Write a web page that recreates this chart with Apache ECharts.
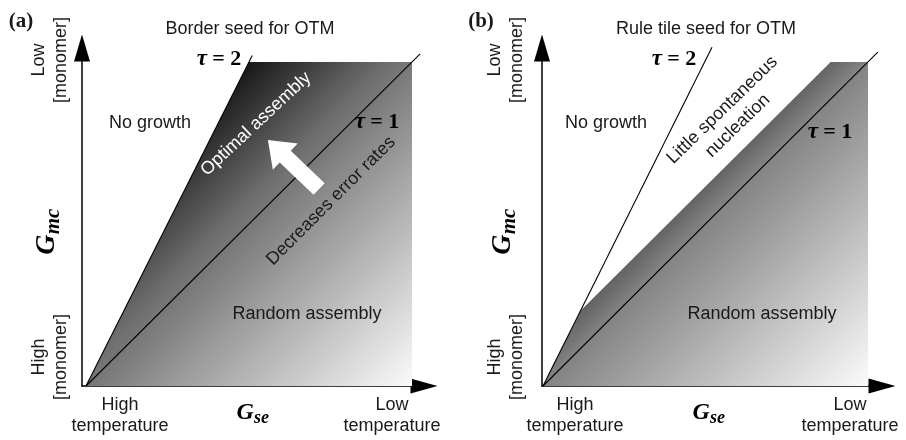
<!DOCTYPE html>
<html lang="en">
<head>
<meta charset="UTF-8">
<title>OTM growth regimes</title>
<script src="https://cdn.jsdelivr.net/npm/echarts@6/dist/echarts.min.js"></script>
<style>
    html, body { margin: 0; padding: 0; background: #fff; }
    #main { width: 906px; height: 440px; }
</style>
</head>
<body>
<div id="main"></div>
<script>
// panel (a): border seed
var tau2A = [[0, 0], [0.51, 1.02]];
var tau1A = [[0, 0], [1.025, 1.025]];
var regionA = [[0, 0], [0.5, 1], [1, 1]];
var arrowA = [[0.715, 0.608, 0.558, 0.759]];   // tail x, tail y, tip x, tip y

// panel (b): rule tile seed
var tau2B = [[0, 0], [0.52, 1.045]];
var tau1B = [[0, 0], [1.03, 1.03]];
var regionB = [[0, 0], [0.117, 0.234], [0.885, 1], [1, 1]];

var titles = ['Border seed for OTM', 'Rule tile seed for OTM'];
var tags = ['(a)', '(b)'];

var sans = '18px "Liberation Sans", Arial, sans-serif';
var serifB = 'bold 21px "Liberation Serif", "Times New Roman", serif';
var ink = '#1a1a1a';

var chart = echarts.init(document.getElementById('main'));

function xAx(gi, min, max) {
    return {
        type: 'value', gridIndex: gi, min: min, max: max,
        axisLine: { show: true, onZero: true, symbol: ['none', 'triangle'], symbolSize: [15, 27],
            lineStyle: { color: '#000', width: 1.5 } },
        axisTick: { show: false }, axisLabel: { show: false }, splitLine: { show: false }
    };
}
function yAx(gi, max) {
    return {
        type: 'value', gridIndex: gi, min: 0, max: max,
        axisLine: { show: true, onZero: false, symbol: ['none', 'triangle'], symbolSize: [16, 27],
            lineStyle: { color: '#000', width: 1.5 } },
        axisTick: { show: false }, axisLabel: { show: false }, splitLine: { show: false }
    };
}

function area(gi, data, grad) {
    return { type: 'line', xAxisIndex: gi, yAxisIndex: gi, data: data, symbol: 'none',
        lineStyle: { width: 0 }, areaStyle: { color: grad, opacity: 1 }, silent: true, z: 1 };
}
function tauLine(gi, data) {
    return { type: 'line', xAxisIndex: gi, yAxisIndex: gi, data: data, symbol: 'none',
        lineStyle: { color: '#000', width: 1.1 }, clip: false, silent: true, z: 3 };
}

function renderArrow(params, api) {
    var a = api.coord([api.value(0), api.value(1)]);
    var b = api.coord([api.value(2), api.value(3)]);
    var dx = b[0] - a[0], dy = b[1] - a[1];
    var len = Math.sqrt(dx * dx + dy * dy);
    var ux = dx / len, uy = dy / len, nx = -uy, ny = ux;
    var shaft = 8, head = 18, headLen = 24;
    var hb = [b[0] - ux * headLen, b[1] - uy * headLen];
    return {
        type: 'polygon',
        shape: { points: [
            [a[0] + nx * shaft, a[1] + ny * shaft],
            [hb[0] + nx * shaft, hb[1] + ny * shaft],
            [hb[0] + nx * head, hb[1] + ny * head],
            b,
            [hb[0] - nx * head, hb[1] - ny * head],
            [hb[0] - nx * shaft, hb[1] - ny * shaft],
            [a[0] - nx * shaft, a[1] - ny * shaft]
        ] },
        style: { fill: '#fff' }
    };
}

var gradA = { type: 'linear', x: 0, y: 0, x2: 1, y2: 1, colorStops: [
    { offset: 0, color: '#000' }, { offset: 0.25, color: '#161616' },
    { offset: 0.46, color: '#6c6c6c' }, { offset: 0.6, color: '#939393' },
    { offset: 1, color: '#fbfbfb' }] };
var gradB = { type: 'linear', x: 0, y: 0, x2: 1, y2: 1, colorStops: [
    { offset: 0, color: '#000' }, { offset: 0.44, color: '#626262' },
    { offset: 0.5, color: '#848484' }, { offset: 1, color: '#fbfbfb' }] };

function txt(x, y, text, o) {
    o = o || {};
    return { type: 'text', x: x, y: y, rotation: o.rot || 0, silent: true, z: 10,
        style: { text: text, font: o.font || sans, fill: o.fill || ink,
            align: 'center', verticalAlign: 'middle', lineHeight: o.lh || 21 } };
}
function tau(x, y, n) {
    return { type: 'text', x: x, y: y, silent: true, z: 10,
        style: { text: '{t|τ}{e| = ' + n + '}', align: 'center', verticalAlign: 'middle',
            rich: {
                t: { font: 'bold italic 23px "Liberation Serif", serif', fill: '#000' },
                e: { font: 'bold 22px "Liberation Serif", serif', fill: '#000' }
            } } };
}
// G with subscript, optionally rotated
function gsym(x, y, sub, rot, big, small) {
    return { type: 'group', x: x, y: y, rotation: rot, silent: true, z: 10, children: [
        { type: 'text', x: -big * 0.85, y: 0, style: { text: 'G', font: 'bold italic ' + big + 'px "Liberation Serif", serif',
            fill: '#000', align: 'left', verticalAlign: 'middle' } },
        { type: 'text', x: -big * 0.12, y: big * 0.22, style: { text: sub, font: 'bold italic ' + small + 'px "Liberation Serif", serif',
            fill: '#000', align: 'left', verticalAlign: 'middle' } }
    ] };
}

var up = Math.PI / 2;
var graphics = [
    txt(21, 22, tags[0], { font: serifB }),
    txt(481, 22, tags[1], { font: serifB }),
    txt(250, 29, titles[0]),
    txt(706, 29, titles[1]),

    // panel (a)
    txt(50, 60, 'Low\n[monomer]', { rot: up, lh: 22 }),
    txt(50, 357, 'High\n[monomer]', { rot: up, lh: 22 }),
    txt(120, 416, 'High\ntemperature'),
    txt(392, 416, 'Low\ntemperature'),
    txt(150, 123, 'No growth'),
    txt(307, 314, 'Random assembly'),
    txt(256, 124, 'Optimal assembly', { rot: 0.75, fill: '#fff' }),
    txt(331, 201, 'Decreases error rates', { rot: 0.785 }),
    tau(219, 59, 2),
    tau(377, 122, 1),
    gsym(47, 231, 'mc', up, 28, 21),
    gsym(257, 413, 'se', 0, 24, 18),

    // panel (b)
    txt(506, 60, 'Low\n[monomer]', { rot: up, lh: 22 }),
    txt(506, 357, 'High\n[monomer]', { rot: up, lh: 22 }),
    txt(575, 416, 'High\ntemperature'),
    txt(850, 416, 'Low\ntemperature'),
    txt(606, 123, 'No growth'),
    txt(762, 314, 'Random assembly'),
    txt(730, 118, 'Little spontaneous\nnucleation', { rot: 0.77, lh: 22 }),
    tau(674, 59, 2),
    tau(830, 132, 1),
    gsym(503, 231, 'mc', up, 28, 21),
    gsym(713, 413, 'se', 0, 24, 18)
];

var option = {
    animation: false,
    grid: [
        { left: 82, top: 48, width: 342, height: 338 },
        { left: 542, top: 48, width: 340, height: 338 }
    ],
    xAxis: [xAx(0, -0.0123, 1.0368), xAx(1, -0.003, 1.043)],
    yAxis: [yAx(0, 1.043), yAx(1, 1.043)],
    series: [
        area(0, regionA, gradA),
        tauLine(0, tau1A),
        tauLine(0, tau2A),
        { type: 'custom', xAxisIndex: 0, yAxisIndex: 0, renderItem: renderArrow, data: arrowA,
          encode: { x: [0, 2], y: [1, 3] }, clip: false, silent: true, z: 4 },
        area(1, regionB, gradB),
        tauLine(1, tau1B),
        tauLine(1, tau2B)
    ],
    graphic: graphics
};

chart.setOption(option);
</script>
</body>
</html>
